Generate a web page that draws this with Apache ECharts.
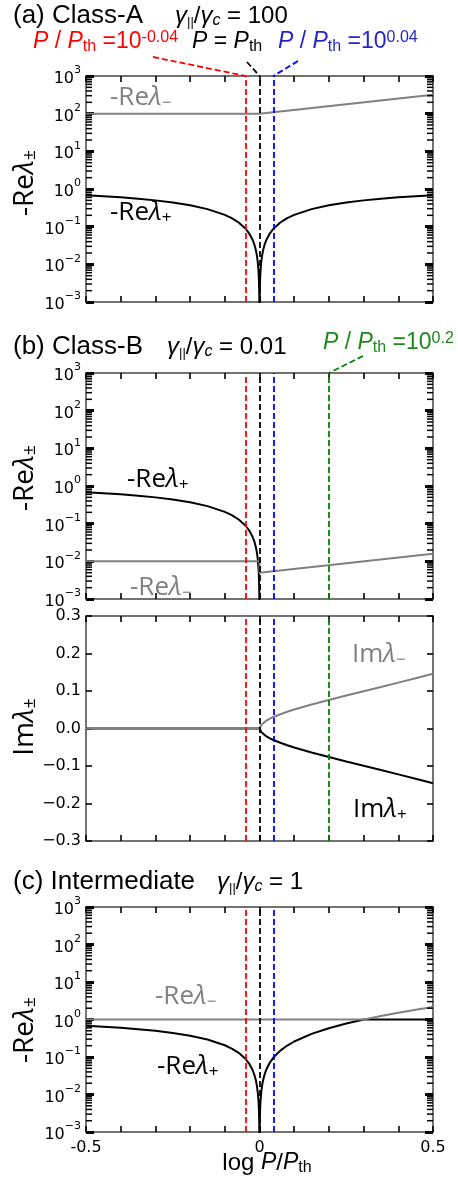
<!DOCTYPE html>
<html lang="en">
<head>
<meta charset="UTF-8">
<title>Eigenvalues vs pump</title>
<script src="https://cdn.jsdelivr.net/npm/echarts@6/dist/echarts.min.js"></script>
<style>
  html, body { margin: 0; padding: 0; background: #fff; }
  #chart { width: 458px; height: 1180px; }
</style>
</head>
<body>
<div id="chart"></div>
<script>
// x axis: log P/Pth
var xNeg = [-0.5, -0.45, -0.4, -0.35, -0.3, -0.25, -0.2, -0.15, -0.1, -0.08, -0.06, -0.04, -0.03, -0.02, -0.015, -0.01, -0.007, -0.005, -0.003, -0.002, -0.001, -0.0005, 0];
var xPos = [0, 0.0005, 0.001, 0.002, 0.003, 0.005, 0.007, 0.01, 0.015, 0.02, 0.03, 0.04, 0.06, 0.08, 0.1, 0.15, 0.2, 0.25, 0.3, 0.35, 0.4, 0.45, 0.5];

// (a) class-A
var aRePlusNeg = [0.684, 0.645, 0.602, 0.553, 0.499, 0.438, 0.369, 0.292, 0.206, 0.168, 0.129, 0.088, 0.0667, 0.045, 0.034, 0.0228, 0.016, 0.0114, 0.0069, 0.0046, 0.0023, 0.00115, 0.0001];
var aRePlusPos = [0.0001, 0.00115, 0.0023, 0.0046, 0.0069, 0.0114, 0.016, 0.0228, 0.034, 0.045, 0.0667, 0.088, 0.129, 0.168, 0.206, 0.292, 0.369, 0.438, 0.499, 0.553, 0.602, 0.645, 0.684];
var aReMinusX = [-0.5, 0, 0.5];
var aReMinus = [100, 100, 316];

// (b) class-B
var bRePlusNeg = [0.684, 0.645, 0.602, 0.553, 0.499, 0.438, 0.369, 0.292, 0.206, 0.168, 0.129, 0.088, 0.0667, 0.045, 0.034, 0.0228, 0.016, 0.0114, 0.0069, 0.0046, 0.0023, 0.00115, 0.0001];
var bReMinusX = [-0.5, 0, 0, 0.5];
var bReMinus = [0.01, 0.01, 0.005, 0.0158];
var imX = [-0.5, 0, 0.001, 0.002, 0.005, 0.01, 0.02, 0.03, 0.04, 0.06, 0.08, 0.1, 0.15, 0.2, 0.25, 0.3, 0.35, 0.4, 0.45, 0.5];
var imMinus = [0, 0, 0, 0.0046, 0.0095, 0.0144, 0.0211, 0.0262, 0.0306, 0.0381, 0.0446, 0.0505, 0.0638, 0.0761, 0.0878, 0.0993, 0.1107, 0.1223, 0.1341, 0.1462];
var imPlus = [0, 0, 0, -0.0046, -0.0095, -0.0144, -0.0211, -0.0262, -0.0306, -0.0381, -0.0446, -0.0505, -0.0638, -0.0761, -0.0878, -0.0993, -0.1107, -0.1223, -0.1341, -0.1462];

// (c) intermediate
var cRePlusNeg = [0.684, 0.645, 0.602, 0.553, 0.499, 0.438, 0.369, 0.292, 0.206, 0.168, 0.129, 0.088, 0.0667, 0.045, 0.034, 0.0228, 0.016, 0.0114, 0.0069, 0.0046, 0.0023, 0.00115, 0.0001];
var cPosX = [0, 0.0005, 0.001, 0.002, 0.003, 0.005, 0.007, 0.01, 0.015, 0.02, 0.03, 0.04, 0.06, 0.08, 0.1, 0.15, 0.2, 0.25, 0.301, 0.35, 0.4, 0.45, 0.5];
var cRePlusPos = [0.0001, 0.00115, 0.0023, 0.0046, 0.0069, 0.0116, 0.0163, 0.0233, 0.0351, 0.0471, 0.0715, 0.0965, 0.148, 0.202, 0.259, 0.413, 0.585, 0.778, 1.0, 1.0, 1.0, 1.0, 1.0];
var cReMinusX = [-0.5, 0.301, 0.35, 0.4, 0.45, 0.5];
var cReMinus = [1, 1, 1.239, 1.512, 1.818, 2.162];

// dashed marker lines (log P/Pth)
var vLineX = [-0.04, 0, 0.04, 0.2];
var vLineColor = ['#ff0000', '#000000', '#0000ff', '#008000'];

// ticks
var xTicks = [-0.5, 0, 0.5];
var logDecades = [-3, -2, -1, 0, 1, 2];

var GRAY = '#808080';
var AXIS = '#444';

function zip(xs, ys) {
    return xs.map(function (x, i) { return [x, ys[i]]; });
}

var minorVals = [];
logDecades.forEach(function (e) {
    for (var k = 2; k <= 9; k++) minorVals.push(k * Math.pow(10, e));
});

var grids = [
    {left: 86, right: 25, top: 76, height: 226},
    {left: 86, right: 25, top: 373, height: 226},
    {left: 86, right: 25, top: 616, height: 225},
    {left: 86, right: 25, top: 907, height: 225}
];

var xAxes = [];
var yAxes = [];
grids.forEach(function (g, i) {
    ['bottom', 'top'].forEach(function (pos) {
        xAxes.push({
            gridIndex: i, type: 'value', position: pos,
            min: -0.5, max: 0.5, interval: 0.1,
            axisLine: {show: true, onZero: false, lineStyle: {color: AXIS, width: 1.5}},
            axisTick: {show: true, inside: true, length: 6, lineStyle: {color: '#000', width: 1.6}},
            splitLine: {show: false},
            axisLabel: {
                show: i === 3 && pos === 'bottom', margin: 8,
                fontFamily: 'DejaVu Sans', fontSize: 16, color: '#000',
                formatter: function (v) {
                    if (Math.abs(v) < 1e-9) return '0';
                    for (var k = 0; k < xTicks.length; k++) {
                        if (Math.abs(v - xTicks[k]) < 1e-9) return String(xTicks[k]);
                    }
                    return '';
                }
            }
        });
    });
    ['left', 'right'].forEach(function (pos) {
        var base = {
            gridIndex: i, position: pos,
            axisLine: {show: true, onZero: false, lineStyle: {color: AXIS, width: 1.5}},
            splitLine: {show: false}
        };
        if (i === 2) {
            base.type = 'value';
            base.min = -0.3; base.max = 0.3; base.interval = 0.1;
            base.axisTick = {show: true, inside: true, length: 6, lineStyle: {color: '#000', width: 1.6}};
            base.axisLabel = {
                show: pos === 'left', margin: 5, fontFamily: 'DejaVu Sans', fontSize: 16, color: '#000',
                formatter: function (v) {
                    if (Math.abs(v) < 1e-9) return '0.0';
                    return (v < 0 ? '\u2212' : '') + Math.abs(v).toFixed(1);
                }
            };
        } else {
            base.type = 'log'; base.logBase = 10;
            base.min = 0.001; base.max = 1000;
            base.axisTick = {show: true, inside: true, length: 8, lineStyle: {color: '#000', width: 3}};
            base.axisLabel = {
                show: pos === 'left', margin: 5, color: '#000',
                formatter: function (v) {
                    var e = Math.round(Math.log10(v));
                    return '{b|10}{s|' + (e < 0 ? '\u2212' + (-e) : e) + '}';
                },
                rich: {
                    b: {fontFamily: 'DejaVu Sans', fontSize: 16, color: '#000', verticalAlign: 'bottom', padding: [6, 0, 0, 0]},
                    s: {fontFamily: 'DejaVu Sans', fontSize: 11, color: '#000', verticalAlign: 'top', padding: [0, 0, 10, 0]}
                }
            };
        }
        yAxes.push(base);
    });
});

function lineSeries(gi, data, color, z) {
    return {
        type: 'line', xAxisIndex: gi * 2, yAxisIndex: gi * 2, data: data,
        showSymbol: false, symbol: 'none', smooth: false, clip: true, z: z || 3,
        lineStyle: {color: color, width: 2}, silent: true, animation: false
    };
}

function vLines(gi, n) {
    return {
        type: 'line', xAxisIndex: gi * 2, yAxisIndex: gi * 2, data: [], silent: true,
        markLine: {
            symbol: 'none', silent: true, animation: false, label: {show: false},
            data: vLineX.slice(0, n).map(function (x, k) {
                return {xAxis: x, lineStyle: {color: vLineColor[k], width: 1.8, type: [6, 3]}};
            })
        },
        z: 4
    };
}

var series = [
    // (a)
    vLines(0, 3),
    lineSeries(0, zip(aReMinusX, aReMinus), GRAY),
    lineSeries(0, zip(xNeg, aRePlusNeg).concat(zip(xPos, aRePlusPos)), '#000'),
    // (b) real part
    vLines(1, 4),
    lineSeries(1, zip(xNeg, bRePlusNeg), '#000'),
    lineSeries(1, zip(bReMinusX, bReMinus), GRAY),
    // (b) imaginary part
    vLines(2, 4),
    lineSeries(2, zip(imX, imPlus), '#000'),
    lineSeries(2, zip(imX, imMinus), GRAY),
    // (c)
    vLines(3, 3),
    lineSeries(3, zip(xNeg, cRePlusNeg).concat(zip(cPosX, cRePlusPos)), '#000'),
    lineSeries(3, zip(cReMinusX, cReMinus), GRAY)
];

// text helpers
var richBase = {
    n: {fontFamily: 'Liberation Sans', fontSize: 23},
    pi: {fontFamily: 'Liberation Sans', fontSize: 23, fontStyle: 'italic'},
    sub: {fontFamily: 'Liberation Sans', fontSize: 16, verticalAlign: 'bottom', padding: [9, 0, 0, 0]},
    sup: {fontFamily: 'Liberation Sans', fontSize: 16, verticalAlign: 'top', padding: [0, 0, 9, 0]},
    gi: {fontFamily: 'Liberation Sans', fontSize: 24, fontStyle: 'italic'},
    gn: {fontFamily: 'Liberation Sans', fontSize: 24},
    gs: {fontFamily: 'Liberation Sans', fontSize: 13, verticalAlign: 'bottom', padding: [12, 0, 0, 0]},
    gsi: {fontFamily: 'Liberation Sans', fontSize: 16, fontStyle: 'italic', verticalAlign: 'bottom', padding: [10, 0, 0, 0]},
    a: {fontFamily: 'Open Sans', fontSize: 26},
    l: {fontFamily: 'Open Sans', fontSize: 26, fontStyle: 'italic'},
    p: {fontFamily: 'Open Sans', fontSize: 17, verticalAlign: 'bottom', padding: [10, 0, 0, 0]},
    ya: {fontFamily: 'Open Sans', fontSize: 28},
    yl: {fontFamily: 'Open Sans', fontSize: 28, fontStyle: 'italic'},
    yp: {fontFamily: 'Open Sans', fontSize: 18, verticalAlign: 'bottom', padding: [10, 0, 0, 0]},
    tt: {fontFamily: 'Liberation Sans', fontSize: 26}
};

function txt(x, y, text, color, opts) {
    opts = opts || {};
    return {
        type: 'text', x: x, y: y, rotation: opts.rot || 0, z: 20, silent: true,
        style: {
            text: text, rich: richBase, fill: color || '#000',
            font: '23px "Liberation Sans"',
            align: opts.align || 'left', verticalAlign: 'middle'
        }
    };
}

function gammaText(val) {
    return '{gi|\u03b3}{gs|||}{gn|/}{gi|\u03b3}{gsi|c}{gn| = ' + val + '}';
}
function pLabel(exp) {
    return '{pi|P}{n| / }{pi|P}{sub|th}{n| =10}{sup|' + exp + '}';
}

var texts = [
    txt(13, 16, '{tt|(a) Class-A}'),
    txt(175, 16, gammaText('100')),
    txt(33, 42, pLabel('-0.04'), '#ff0000'),
    txt(192, 42, '{pi|P}{n| = }{pi|P}{sub|th}', '#000'),
    txt(278, 42, pLabel('0.04'), '#2424c8'),
    txt(13, 347, '{tt|(b) Class-B}'),
    txt(167, 347, gammaText('0.01')),
    txt(323, 343, pLabel('0.2'), '#1a8a1a'),
    txt(13, 882, '{tt|(c) Intermediate}'),
    txt(217, 882, gammaText('1')),
    // y titles
    txt(25, 183, '{ya|-Re}{yl|\u03bb}{yp|\u00b1}', '#000', {rot: Math.PI / 2, align: 'center'}),
    txt(25, 478, '{ya|-Re}{yl|\u03bb}{yp|\u00b1}', '#000', {rot: Math.PI / 2, align: 'center'}),
    txt(25, 727, '{ya|Im}{yl|\u03bb}{yp|\u00b1}', '#000', {rot: Math.PI / 2, align: 'center'}),
    txt(25, 1030, '{ya|-Re}{yl|\u03bb}{yp|\u00b1}', '#000', {rot: Math.PI / 2, align: 'center'}),
    // curve labels
    txt(110, 98, '{a|-Re}{l|\u03bb}{p|\u2212}', GRAY),
    txt(110, 213, '{a|-Re}{l|\u03bb}{p|+}', '#000'),
    txt(127, 480, '{a|-Re}{l|\u03bb}{p|+}', '#000'),
    txt(130, 588, '{a|-Re}{l|\u03bb}{p|\u2212}', GRAY),
    txt(352, 655, '{a|Im}{l|\u03bb}{p|\u2212}', GRAY),
    txt(353, 810, '{a|Im}{l|\u03bb}{p|+}', '#000'),
    txt(155, 997, '{a|-Re}{l|\u03bb}{p|\u2212}', GRAY),
    txt(157, 1067, '{a|-Re}{l|\u03bb}{p|+}', '#000'),
    // x title
    txt(267, 1163, '{gn|log }{pi|P}{gn|/}{pi|P}{sub|th}', '#000', {align: 'center'})
];

var chart = echarts.init(document.getElementById('chart'), null, {renderer: 'canvas'});
chart.setOption({
    animation: false,
    backgroundColor: '#fff',
    grid: grids,
    xAxis: xAxes,
    yAxis: yAxes,
    series: series,
    graphic: texts
});

// leader lines from labels to the top of the dashed markers
function leader(gi, xv, yv, from, color) {
    var end = chart.convertToPixel({gridIndex: gi}, [xv, yv]);
    return {
        type: 'line', silent: true, z: 20,
        shape: {x1: from[0], y1: from[1], x2: end[0], y2: end[1]},
        style: {stroke: color, lineWidth: 1.8, lineDash: [6, 3]}
    };
}
var extras = [
    leader(0, vLineX[0], 1000, [153, 57], vLineColor[0]),
    leader(0, vLineX[1], 1000, [247, 62], vLineColor[1]),
    leader(0, vLineX[2], 1000, [298, 61], vLineColor[2]),
    leader(1, vLineX[3], 1000, [363, 356], vLineColor[3])
];

// log minor ticks (2..9 per decade) on both sides of the log panels
[0, 1, 3].forEach(function (gi) {
    minorVals.forEach(function (v) {
        var p = chart.convertToPixel({gridIndex: gi}, [-0.5, v]);
        var q = chart.convertToPixel({gridIndex: gi}, [0.5, v]);
        extras.push({type: 'line', silent: true, z: 15,
            shape: {x1: p[0], y1: p[1], x2: p[0] + 6, y2: p[1]}, style: {stroke: '#000', lineWidth: 1.5}});
        extras.push({type: 'line', silent: true, z: 15,
            shape: {x1: q[0] - 6, y1: q[1], x2: q[0], y2: q[1]}, style: {stroke: '#000', lineWidth: 1.5}});
    });
});
chart.setOption({graphic: texts.concat(extras)});
</script>
</body>
</html>
